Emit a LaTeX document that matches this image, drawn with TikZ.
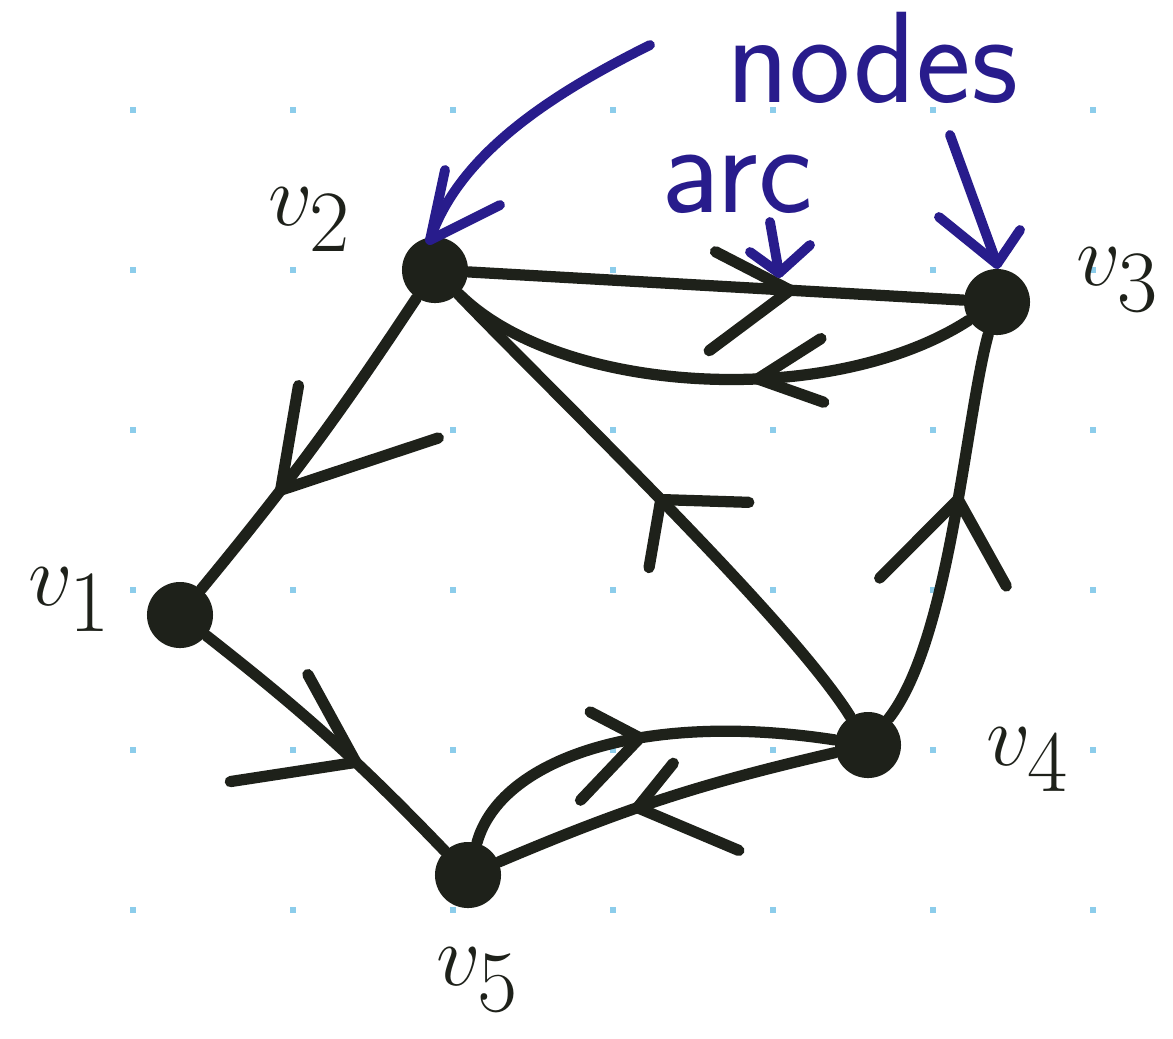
\documentclass[tikz,border=0pt]{standalone}
\usetikzlibrary{decorations.markings}
\definecolor{inkc}{RGB}{30,33,26}
\definecolor{penblue}{RGB}{40,28,140}
\definecolor{griddot}{RGB}{140,205,235}
\tikzset{
  ink/.style={draw=inkc, line width=3.2pt, line cap=round, line join=round},
  bink/.style={draw=penblue, line width=2.8pt, line cap=round, line join=round},
  dot/.style={circle, fill=inkc, draw=none, minimum size=0.66cm, inner sep=0pt},
  vlab/.style={text=inkc, font=\fontsize{40}{40}\selectfont},
  blab/.style={text=penblue, inner sep=0pt, font=\sffamily\fontsize{37}{37}\selectfont},
  marr/.style n args={5}{postaction={decorate, decoration={markings,
    mark=at position #1 with {\draw[ink] ({180-#3}:#2) -- (0,0) -- ({180+#5}:#4);}}}},
}
\begin{document}
\begin{tikzpicture}[x=0.01cm, y=-0.01cm]
\useasboundingbox[fill=white] (0,0) rectangle (1173,1038);
% grid dots
\foreach \gx in {133,293,453,613,773,933,1093}
  \foreach \gy in {110,270,430,590,750,910}
    \fill[griddot] (\gx-3,\gy-3) rectangle (\gx+3,\gy+3);
% nodes
\node[dot] (v1) at (180,615) {};
\node[dot] (v2) at (435,270) {};
\node[dot] (v3) at (997,302) {};
\node[dot] (v4) at (868,745) {};
\node[dot] (v5) at (468,875) {};
% labels
\node[vlab] (l1) at (70,600) {$v_1$};
\node[vlab] (l2) at (310,220) {$v_2$};
\node[vlab] (l3) at (1118,280) {$v_3$};
\node[vlab] (l4) at (1028,760) {$v_4$};
\node[vlab] (l5) at (478,980) {$v_5$};
% edges
\draw[ink, marr={0.65}{1.66cm}{34}{1.06cm}{28}] (v2) to[bend left=3] (v1);
\draw[ink, marr={0.61}{1.0cm}{18}{1.27cm}{52}] (v1) to[bend left=4] (v5);
\draw[ink, marr={0.51}{0.56cm}{37}{0.86cm}{37}] (v5) .. controls (500,760) and (640,710) .. (v4);
\draw[ink, marr={0.58}{1.1cm}{42}{0.57cm}{32}] (v4) to[bend right=5] (v5);
\draw[ink, marr={0.5}{0.69cm}{54}{0.88cm}{44}] (v4) .. controls (790,620) and (560,400) .. (v2);
\draw[ink, marr={0.58}{1.11cm}{35}{0.99cm}{39}] (v4) .. controls (950,640) and (965,420) .. (v3);
\draw[ink, marr={0.65}{0.84cm}{24}{1.01cm}{40}] (v2) -- (v3);
\draw[ink, marr={0.41}{0.7cm}{22}{0.75cm}{30}] (v3) .. controls (830,410) and (560,395) .. (v2);
% blue annotations
\node[blab] (tn) at (872,58) {nodes};
\node[blab] (ta) at (737,184) {arc};
\coordinate (b1s) at (650,45);
\coordinate (b1e) at (430,240);
\draw[bink] (b1s) .. controls (560,90) and (460,150) .. (b1e);
\draw[bink] (445,170) -- (b1e) -- (500,205);
\coordinate (b2s) at (950,135);
\coordinate (b2e) at (997,264);
\draw[bink] (b2s) -- (b2e);
\draw[bink] (939,217) -- (b2e) -- (1020,230);
\coordinate (b3s) at (770,222);
\coordinate (b3e) at (779,273);
\draw[bink] (b3s) -- (b3e);
\draw[bink] (750,252) -- (b3e) -- (810,245);
\end{tikzpicture}
\end{document}
